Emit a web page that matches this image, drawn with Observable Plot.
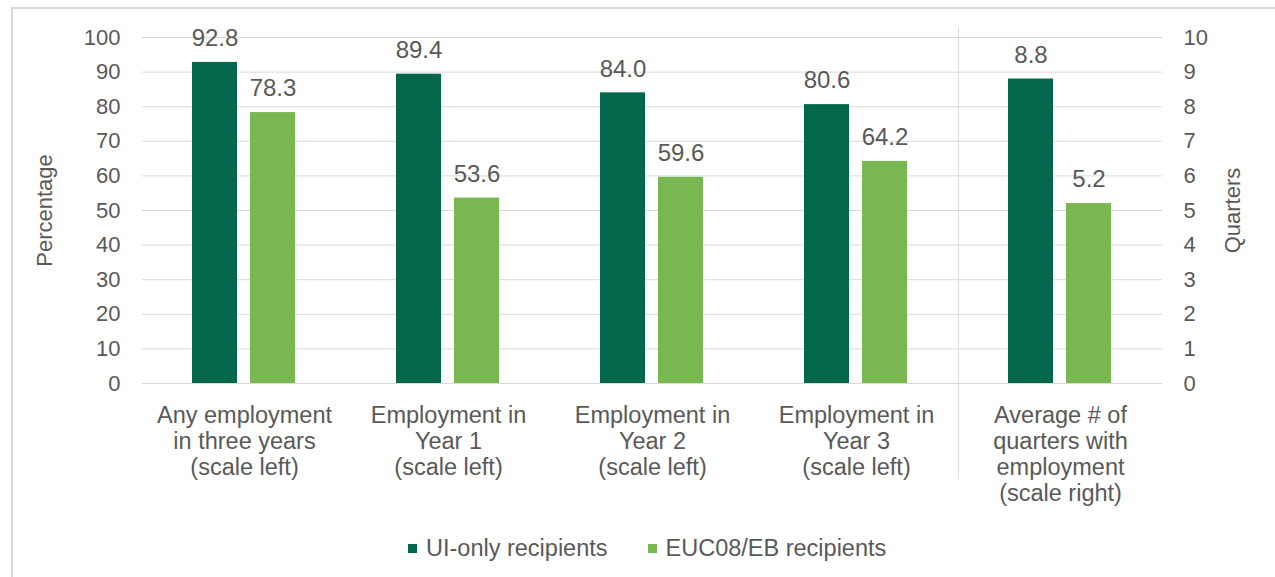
<!DOCTYPE html>
<html>
<head>
<meta charset="utf-8">
<script src="https://cdn.jsdelivr.net/npm/d3@7"></script>
<script src="https://cdn.jsdelivr.net/npm/@observablehq/plot@0.6"></script>
<style>
  body { margin: 0; background: #fff; font-family: "Liberation Sans", Arial, sans-serif; }
  #wrap { position: relative; width: 1275px; height: 577px; overflow: hidden; }
  #border { position: absolute; left: 11px; top: 7px; right: -10px; bottom: -10px;
            border-left: 2px solid #d9d9d9; border-top: 2px solid #d9d9d9; }
  #chart { position: absolute; left: 0; top: 0; }
  #legend { position: absolute; left: 408px; top: 534px; display: flex; align-items: center;
            font-size: 23.5px; color: #595959; line-height: 28px; }
  .item { display: flex; align-items: center; margin-right: 40px; }
  .sw { width: 9px; height: 9px; margin-right: 9px; }
</style>
</head>
<body>
<div id="wrap">
  <div id="border"></div>
  <div id="chart"></div>
  <div id="legend"></div>
</div>
<script>
const categories = [
  "Any employment\nin three years\n(scale left)",
  "Employment in\nYear 1\n(scale left)",
  "Employment in\nYear 2\n(scale left)",
  "Employment in\nYear 3\n(scale left)",
  "Average # of\nquarters with\nemployment\n(scale right)"
];
const scaleSide = ["left", "left", "left", "left", "right"];
const seriesNames = ["UI-only recipients", "EUC08/EB recipients"];
const uiOnly = [92.8, 89.4, 84.0, 80.6, 8.8];
const eucEb = [78.3, 53.6, 59.6, 64.2, 5.2];
const leftTicks = [0, 10, 20, 30, 40, 50, 60, 70, 80, 90, 100];
const rightTicks = [0, 1, 2, 3, 4, 5, 6, 7, 8, 9, 10];
const colors = ["#03684B", "#79B751"];

const rightFactor = d3.max(leftTicks) / d3.max(rightTicks);
const rows = [];
categories.forEach((c, i) => {
  [uiOnly, eucEb].forEach((arr, j) => {
    const v = arr[i];
    rows.push({category: c, series: seriesNames[j], value: v,
               pos: scaleSide[i] === "right" ? v * rightFactor : v});
  });
});

const textColor = "#595959";
const grid = "#d9d9d9";

const chart = Plot.plot({
  width: 1275,
  height: 520,
  marginLeft: 142,
  marginRight: 113,
  marginTop: 37,
  marginBottom: 137,
  style: {fontFamily: "'Liberation Sans', Arial, sans-serif", color: textColor, background: "transparent", overflow: "visible"},
  fx: {domain: categories, padding: 0, label: null},
  x: {domain: seriesNames, paddingInner: 0.224, paddingOuter: 0.87, axis: null},
  y: {domain: [0, 100], axis: null},
  color: {domain: seriesNames, range: colors},
  marks: [
    Plot.gridY(leftTicks, {stroke: grid, strokeOpacity: 1}),
    Plot.frame({anchor: "left", fx: () => categories[4], stroke: grid, strokeOpacity: 1, insetTop: -10, insetBottom: -95}),
    Plot.barY(rows, {fx: "category", x: "series", y: "pos", fill: "series"}),
    Plot.text(rows, {fx: "category", x: "series", y: "pos", text: d => d.value.toFixed(1), dy: -24, fontSize: 24, fill: textColor}),
    Plot.axisY(leftTicks, {anchor: "left", tickSize: 0, tickPadding: 22, fontSize: 22,
      label: "Percentage", labelArrow: "none", labelAnchor: "center", labelOffset: 106}),
    Plot.axisY(rightTicks.map(t => t * rightFactor), {anchor: "right", tickSize: 0, tickPadding: 21, fontSize: 22,
      tickFormat: d => String(d / rightFactor), label: "Quarters", labelArrow: "none", labelAnchor: "center", labelOffset: 77}),
    Plot.axisFx({anchor: "bottom", tickSize: 0, tickPadding: 21, fontSize: 23.5, lineHeight: 1.106, label: null})
  ]
});
document.getElementById("chart").appendChild(chart);

const legend = document.getElementById("legend");
seriesNames.forEach((s, i) => {
  const it = document.createElement("div");
  it.className = "item";
  const sw = document.createElement("div");
  sw.className = "sw";
  sw.style.background = colors[i];
  const tx = document.createElement("span");
  tx.textContent = s;
  it.appendChild(sw);
  it.appendChild(tx);
  legend.appendChild(it);
});
</script>
</body>
</html>
